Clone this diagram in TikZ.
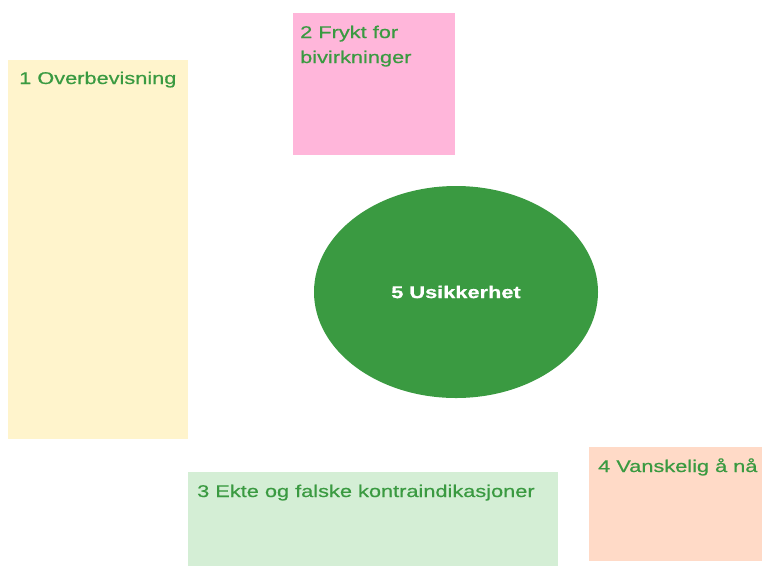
\documentclass[tikz,border=0pt]{standalone}
\usepackage{fontspec}
\setmainfont{Liberation Sans}[FakeStretch=1.28, FakeBold=0.6]
\usetikzlibrary{shapes.geometric}
\definecolor{gulbg}{HTML}{FFF4CC}
\definecolor{rosabg}{HTML}{FFB6DA}
\definecolor{gronnbg}{HTML}{D4EED5}
\definecolor{ferskenbg}{HTML}{FFDAC7}
\definecolor{morkgronn}{HTML}{3A9A41}
\tikzset{
	felt/.style={rectangle, inner sep=0pt, anchor=north west},
	etikett/.style={inner sep=0pt, text=morkgronn, anchor=base west},
}
\begin{document}
\begin{tikzpicture}[x=1pt, y=-1pt, font=\fontsize{17}{25}\selectfont, line join=round]
	\useasboundingbox (0,0) rectangle (762,566);
	% feltene
	\path 
	(8,60) node[felt, fill=gulbg, minimum width=180pt, minimum height=379pt] (F1) {}
	(293,13) node[felt, fill=rosabg, minimum width=162pt, minimum height=142pt] (F2) {}
	(188,472) node[felt, fill=gronnbg, minimum width=370pt, minimum height=94pt] (F3) {}
	(589,447) node[felt, fill=ferskenbg, minimum width=173pt, minimum height=114pt] (F4) {};
	% tekstene
	\path 
	(19,84) node[etikett] (T1) {1 Overbevisning}
	(300,25.5) node[etikett, anchor=north west, align=left] (T2) {2 Frykt for\\bivirkninger}
	(197,497) node[etikett] (T3) {3 Ekte og falske kontraindikasjoner}
	(598,472) node[etikett] (T4) {4 Vanskelig å nå};
	% midten
	\node[ellipse, fill=morkgronn, text=white, inner sep=0pt, minimum width=284pt, minimum height=212pt, font=\fontsize{17}{20}\selectfont\bfseries] (U) at (456,292) {5 Usikkerhet};
\end{tikzpicture}
\end{document}
